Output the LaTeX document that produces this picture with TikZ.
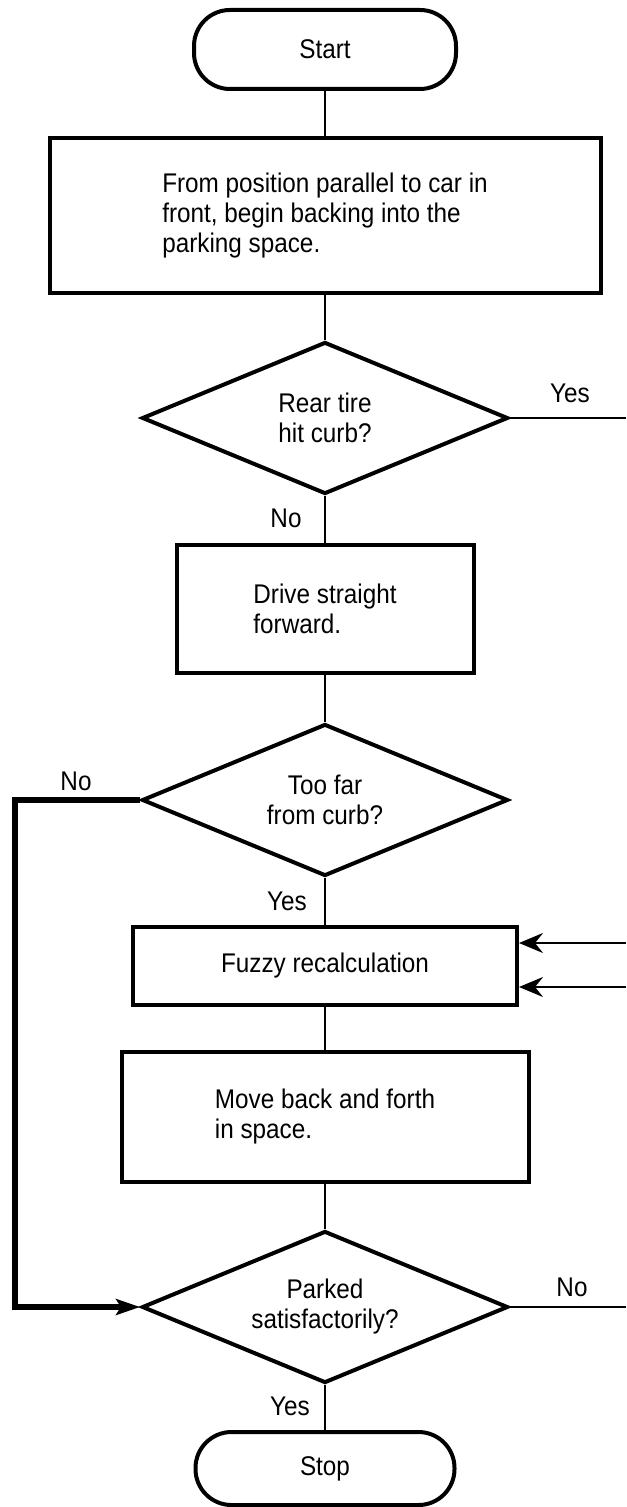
\documentclass[tikz,border=0pt]{standalone}
\usepackage{fontspec}
\setmainfont{Liberation Sans}[FakeStretch=0.9]
\usetikzlibrary{shapes.geometric,arrows.meta}
\begin{document}
\begin{tikzpicture}[x=0.5pt,y=-0.5pt,
  every node/.style={font=\fontsize{13.5}{15}\selectfont},
  box/.style={draw, line width=2pt, inner sep=0pt, align=left},
  dec/.style={draw, diamond, line width=2pt, inner sep=0pt, minimum width=183pt, minimum height=76pt, aspect=2.4, align=center},
  term/.style={draw, line width=2pt, rounded corners=18pt, inner sep=0pt},
  lbl/.style={inner sep=0pt},
  conn/.style={line width=1.3pt},
  heavy/.style={line width=2.6pt, line join=miter},
  tip/.style={-{Stealth[length=12pt, width=10pt, inset=4pt]}},
  bigtip/.style={-{Stealth[length=12pt, width=8pt, inset=2.5pt]}}
]
\useasboundingbox (0,0) rectangle (626,1507);

% shapes
\node[term, minimum width=131pt, minimum height=39.5pt] (start) at (325,49.5) {Start};
\node[box, minimum width=275.5pt, minimum height=77.5pt] (b1) at (325,215.5) {From position parallel to car in\\front, begin backing into the\\parking space.};
\node[dec] (d1) at (325,418) {Rear tire\\hit curb?};
\node[box, minimum width=148.5pt, minimum height=64pt] (b2) at (325,609) {Drive straight\\forward.};
\node[dec] (d2) at (325,800) {Too far\\from curb?};
\node[box, minimum width=192pt, minimum height=39pt] (fz) at (325,966) {Fuzzy recalculation};
\node[box, minimum width=203.5pt, minimum height=65pt] (mv) at (325,1117) {Move back and forth\\in space.};
\node[dec] (d3) at (325,1307) {Parked\\satisfactorily?};
\node[term, minimum width=129.5pt, minimum height=36.5pt] (stop) at (325,1468.5) {Stop};

% labels
\node[lbl] (yes1) at (570,393) {Yes};
\node[lbl] (no1) at (286,518) {No};
\node[lbl] (no2) at (76,781) {No};
\node[lbl] (yes2) at (287,901) {Yes};
\node[lbl] (no3) at (572,1287) {No};
\node[lbl] (yes3) at (290,1406) {Yes};

% free ends
\coordinate (e1) at (626,418);
\coordinate (e3) at (626,1307);
\coordinate (a1) at (626,943);
\coordinate (a2) at (626,987);
\coordinate (c1) at (15,800);
\coordinate (c2) at (15,1307);

% connectors
\draw[conn] (start) -- (b1);
\draw[conn] (b1) -- (d1);
\draw[conn] (d1) -- (b2);
\draw[conn] (b2) -- (d2);
\draw[conn] (d2) -- (fz);
\draw[conn] (fz) -- (mv);
\draw[conn] (mv) -- (d3);
\draw[conn] (d3) -- (stop);
\draw[conn] (d1.east) -- (e1);
\draw[conn] (d3.east) -- (e3);
\draw[conn, tip] (a1) -- (a1 -| fz.east);
\draw[conn, tip] (a2) -- (a2 -| fz.east);
\draw[heavy, bigtip] (d2.west) -- (c1) -- (c2) -- (d3.west);
\end{tikzpicture}
\end{document}
